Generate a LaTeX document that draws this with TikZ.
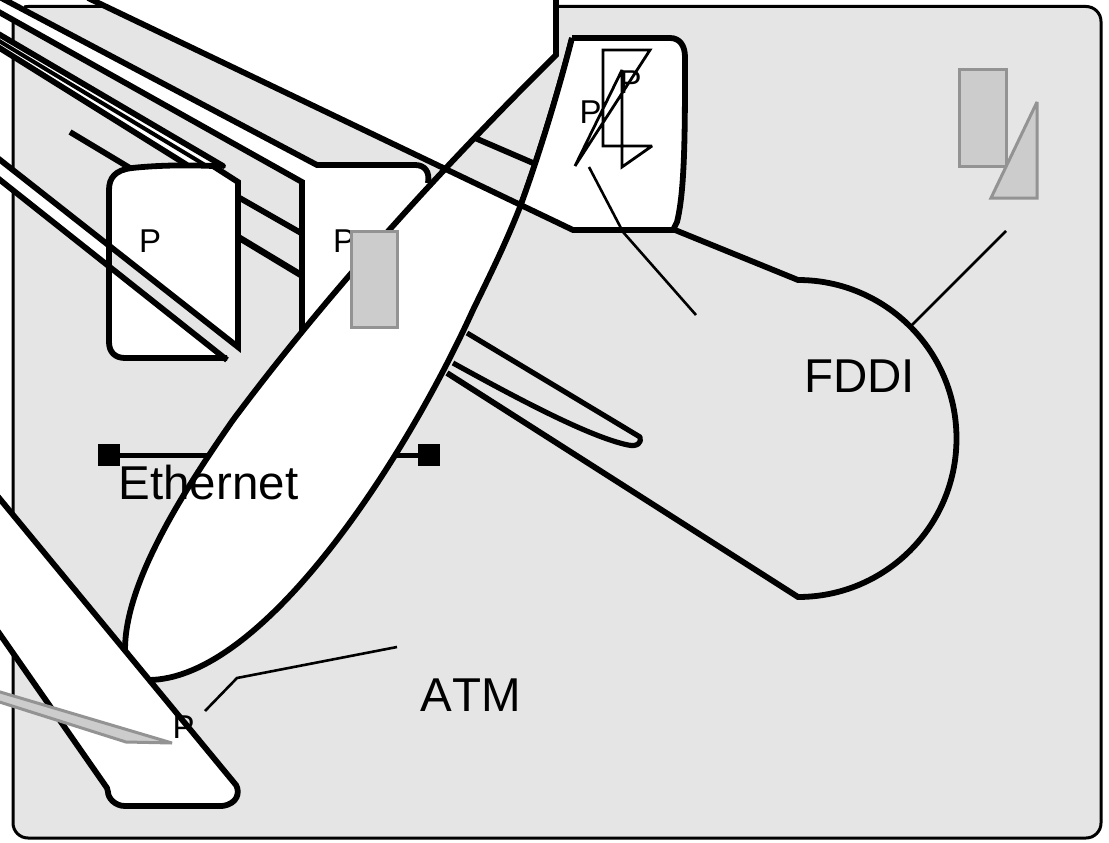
\documentclass[tikz,border=0pt]{standalone}
\usepackage{fontspec}
\setmainfont[Kerning=Off]{Liberation Sans}
\definecolor{bggray}{HTML}{E5E5E5}
\definecolor{pale}{HTML}{CCCCCC}
\definecolor{edge}{HTML}{939393}
\tikzset{
  thickline/.style={draw=black,line width=5.8pt,line join=miter},
  thinline/.style={draw=black,line width=2.6pt},
  palebox/.style={fill=pale,draw=edge,line width=3pt},
  bigtext/.style={anchor=base west,inner sep=0pt,font=\fontsize{47.5}{47.5}\selectfont},
  ptext/.style={anchor=base west,inner sep=0pt,font=\fontsize{33}{33}\selectfont},
  endsq/.style={fill=black,draw=none,minimum size=22pt,inner sep=0pt}
}
\begin{document}
\begin{tikzpicture}[x=1pt,y=-1pt]
\useasboundingbox (0,0) rectangle (1109,843);
\clip (0,0) rectangle (1109,843);
\fill[white] (0,0) rectangle (1109,843);
% background panel
\draw[fill=bggray,draw=black,line width=3pt,rounded corners=15pt] (13,6.5) rectangle (1101,838);
\fill[white] (-2,-3) -- (24,-3) -- (24,12) -- (-2,12) -- cycle;

% FDDI outline and its lines
\draw[thickline] (475,138) -- (533,163) -- (675,230) -- (798,280) arc[start angle=-90,end angle=90,radius=158.5] -- (447,373);
\draw[thickline,line join=round,line width=5.2pt] (467,333) -- (640,437) .. controls (642,443) and (637,447) .. (628,445) .. controls (590,437) and (520,400) .. (453,363);
\draw[thinline] (1006,231) -- (912,325);

% Ethernet segment
\node[endsq] (ethl) at (109,455) {};
\node[endsq] (ethr) at (429,455) {};
\draw[draw=black,line width=5pt] (ethl) -- (ethr);

% second box with its band
\fill[white] (-10,-8) -- (317,165) -- (415,165) .. controls (425,165) and (430,172) .. (428,183) -- (302,335) -- (302,182) -- (-10,7) -- cycle;
\draw[thickline] (-10,-8) -- (317,165) -- (415,165) .. controls (425,165) and (430,172) .. (428,183);
\draw[thickline] (-10,7) -- (302,182) -- (302,335);
\draw[thickline] (238,197) -- (301,233);
\draw[thickline,line width=6.5pt] (238,237) -- (301,275);

% the long lens with the white top
\fill[white] (88,-2) -- (520,207)
  .. controls (505,245) and (490,275) .. (473,310)
  .. controls (400,470) and (260,680) .. (148,680)
  .. controls (130,680) and (125,670) .. (125,650)
  .. controls (125,590) and (170,510) .. (233,420)
  .. controls (330,290) and (445,165) .. (556,55)
  -- (556,-5) -- (88,-5) -- cycle;
\draw[thickline] (556,-5) -- (556,55)
  .. controls (445,165) and (330,290) .. (233,420)
  .. controls (170,510) and (125,590) .. (125,650)
  .. controls (125,670) and (130,680) .. (148,680)
  .. controls (260,680) and (400,470) .. (473,310)
  .. controls (490,275) and (505,245) .. (520,207)
  .. controls (532,175) and (555,105) .. (572,38);

% third box
\fill[white] (572,38) -- (670,38) .. controls (680,38) and (685,46) .. (685,57) .. controls (685,130) and (685,190) .. (677,222) -- (673,230) -- (573,230) -- (520,207) .. controls (532,175) and (555,105) .. (572,38) -- cycle;
\draw[thickline] (572,38) -- (670,38) .. controls (680,38) and (685,46) .. (685,57) .. controls (685,130) and (685,190) .. (677,222) -- (673,230) -- (573,230) -- (88,-2);
\draw[thickline] (520,207) .. controls (532,175) and (555,105) .. (572,38);

% sliver of lines at top left
\fill[white] (-10,29) -- (223,167) -- (187,165) -- (-10,42) -- cycle;
\draw[thickline] (-10,42) -- (187,165);
\draw[draw=black,line width=4pt] (-10,35.5) -- (205,165);
\draw[thickline,line cap=round] (-10,29) -- (223,166);

% first box
\fill[white] (-10,152) -- (110,246.5) -- (110,268) -- (-10,172) -- cycle;
\fill[white] (109,190) .. controls (109,178) and (115,170) .. (132,168) .. controls (160,166) and (190,165) .. (213,166) -- (238,182) -- (238,347) -- (225,360) -- (125,358) .. controls (115,358) and (109,352) .. (109,342) -- cycle;
\fill[bggray] (110,246.5) -- (238,347) -- (238,362) -- (225,362) -- (110,268) -- cycle;
\draw[thickline] (70,132) -- (130,168);
\draw[thickline] (227,358) -- (125,358) .. controls (115,358) and (109,352) .. (109,342) -- (109,190) .. controls (109,178) and (115,170) .. (132,168) .. controls (160,165) and (190,165) .. (213,166) -- (238,182) -- (238,347) -- (-10,152);
\draw[thickline] (-10,172) -- (227,360);

% lower tail
\fill[white] (-10,487) -- (236,785) .. controls (240,792) and (238,800) .. (225,806) -- (125,806) .. controls (115,806) and (108,798) .. (110,790) -- (107,788) -- (-10,620) -- cycle;
\draw[thickline] (-10,487) -- (236,785) .. controls (240,792) and (238,804) .. (222,806) -- (125,806) .. controls (115,806) and (108,798) .. (108,792) -- (107,788) -- (-10,620);

% labels
\node[bigtext] (ethernet) at (118.5,499) {Ethernet};
\node[bigtext] (fddi) at (804,392) {FDDI};
\node[bigtext] (atm) at (420.5,711) {ATM};
\node[ptext] (p1) at (139,252) {P};
\node[ptext] (p2) at (333,252) {P};
\node[ptext] (p3) at (579.5,123) {P};
\node[ptext] (p4) at (619.5,93) {P};
\node[ptext] (p5) at (172.5,738) {P};

% pale shapes
\draw[palebox] (351,231) rectangle (397,327);
\draw[palebox] (959,70) rectangle (1006,166);
\draw[palebox,miter limit=2] (1037,102) -- (1037,198) -- (991,198) -- cycle;
\draw[palebox,line join=bevel] (-10,689) -- (172,743) -- (126,742) -- (-10,699) -- cycle;

% thin outlines in the third box
\draw[draw=black,line width=2.8pt,miter limit=3] (603,50) -- (650,50) -- (575,166) -- (622,70) -- (622,167) -- (652,146) -- (603,146) -- cycle;
\draw[thinline] (589,167) -- (623,232) -- (696,315);
\draw[thinline] (205,711) -- (237,678) -- (397,647);
\end{tikzpicture}
\end{document}
